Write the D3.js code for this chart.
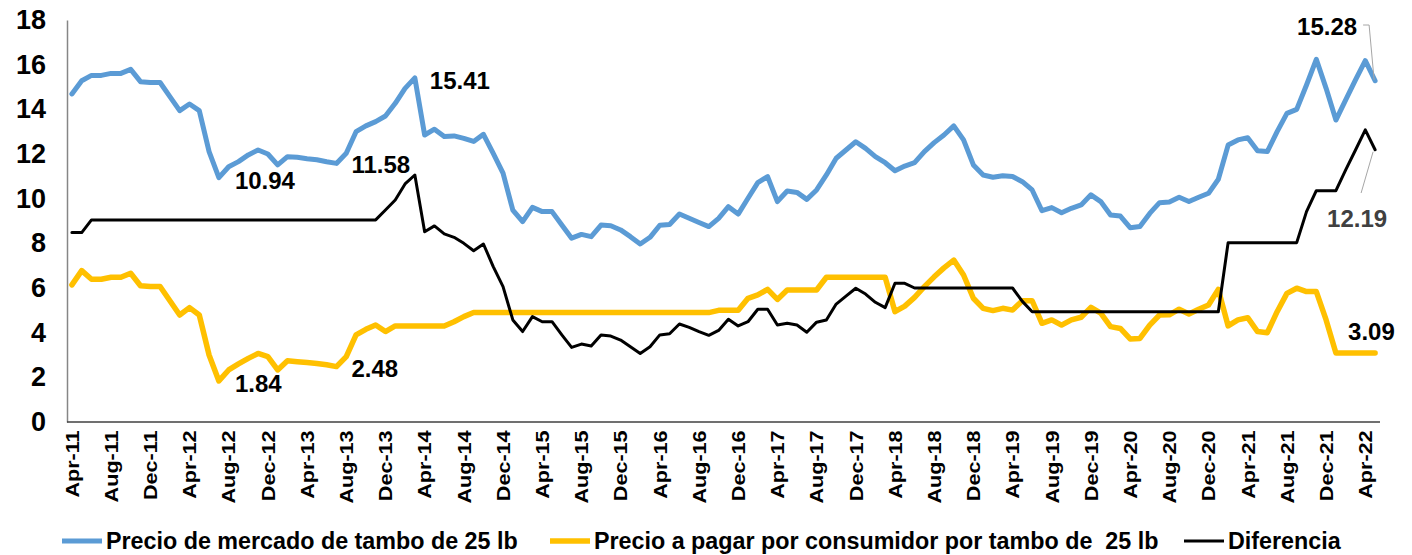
<!DOCTYPE html>
<html>
<head>
<meta charset="utf-8">
<script src="https://cdn.jsdelivr.net/npm/d3@7"></script>
<style>
  body { margin: 0; background: #fff; }
  svg text { font-family: "Liberation Sans", Arial, sans-serif; font-weight: bold; }
</style>
</head>
<body>
<script>
// months Apr-11 .. May-22
const months = d3.timeMonth.range(new Date(2011, 3, 1), new Date(2022, 5, 1));
const yTicks = [0, 2, 4, 6, 8, 10, 12, 14, 16, 18];

const marketPrice = [
  14.69, 15.28, 15.52, 15.52, 15.61, 15.61, 15.79, 15.24, 15.20, 15.20, 14.57, 13.94, 14.24, 13.94, 12.11, 10.94, 11.43, 11.66, 11.96, 12.18, 12.00, 11.51,
  11.88, 11.85, 11.79, 11.74, 11.65, 11.58, 12.03, 13.00, 13.26, 13.45, 13.70, 14.27, 14.94, 15.41, 12.85, 13.11, 12.78, 12.81, 12.70, 12.56, 12.88, 12.03, 11.14,
  9.49, 8.97, 9.61, 9.42, 9.42, 8.82, 8.23, 8.40, 8.30, 8.82, 8.79, 8.60, 8.30, 7.97, 8.27, 8.81, 8.84, 9.31, 9.12, 8.93, 8.75, 9.12, 9.64,
  9.31, 10.02, 10.72, 10.99, 9.87, 10.34, 10.28, 9.97, 10.39, 11.06, 11.81, 12.18, 12.55, 12.25, 11.88, 11.61, 11.25, 11.46, 11.61, 12.11, 12.51,
  12.85, 13.26, 12.63, 11.51, 11.06, 10.96, 11.03, 10.99, 10.76, 10.39, 9.46, 9.60, 9.37, 9.57, 9.72, 10.17, 9.87, 9.27, 9.22, 8.70, 8.75, 9.34, 9.82,
  9.85, 10.06, 9.87, 10.06, 10.24, 10.87, 12.40, 12.63, 12.73, 12.15, 12.11, 13.00, 13.82, 14.00, 15.09, 16.24, 14.94, 13.52, 14.42, 15.32, 16.18, 15.28
];
const consumerPrice = [
  6.14, 6.78, 6.39, 6.39, 6.48, 6.48, 6.66, 6.10, 6.07, 6.07, 5.43, 4.79, 5.12, 4.79, 3.00, 1.84, 2.33, 2.60, 2.85, 3.07, 2.93, 2.33,
  2.74, 2.70, 2.66, 2.62, 2.56, 2.48, 2.93, 3.90, 4.15, 4.34, 4.05, 4.30, 4.30, 4.30, 4.30, 4.30, 4.30, 4.49, 4.72, 4.90, 4.90, 4.90, 4.90,
  4.90, 4.90, 4.90, 4.90, 4.90, 4.90, 4.90, 4.90, 4.90, 4.90, 4.90, 4.90, 4.90, 4.90, 4.90, 4.90, 4.90, 4.90, 4.90, 4.90, 4.90, 5.00, 5.00,
  5.00, 5.54, 5.69, 5.94, 5.49, 5.91, 5.91, 5.91, 5.91, 6.48, 6.48, 6.48, 6.48, 6.48, 6.48, 6.48, 4.94, 5.19, 5.58, 6.06, 6.50,
  6.90, 7.25, 6.58, 5.54, 5.09, 4.99, 5.09, 5.01, 5.43, 5.43, 4.42, 4.57, 4.34, 4.57, 4.69, 5.13, 4.87, 4.27, 4.19, 3.72, 3.74, 4.34, 4.79,
  4.80, 5.05, 4.84, 5.05, 5.24, 5.94, 4.30, 4.57, 4.67, 4.05, 4.00, 4.94, 5.76, 5.99, 5.84, 5.84, 4.57, 3.09, 3.09, 3.09, 3.09, 3.09
];
const difference = [
  8.48, 8.48, 9.05, 9.05, 9.05, 9.05, 9.05, 9.05, 9.05, 9.05, 9.05, 9.05, 9.05, 9.05, 9.05, 9.05, 9.05, 9.05, 9.05, 9.05, 9.05, 9.05,
  9.05, 9.05, 9.05, 9.05, 9.05, 9.05, 9.05, 9.05, 9.05, 9.05, 9.49, 9.94, 10.66, 11.06, 8.52, 8.78, 8.42, 8.27, 8.00, 7.67, 7.97, 6.96, 6.06,
  4.57, 4.05, 4.72, 4.49, 4.49, 3.90, 3.34, 3.49, 3.40, 3.90, 3.85, 3.67, 3.37, 3.07, 3.37, 3.90, 3.95, 4.39, 4.24, 4.05, 3.88, 4.10, 4.60,
  4.30, 4.49, 5.05, 5.05, 4.34, 4.42, 4.34, 4.02, 4.47, 4.57, 5.28, 5.64, 5.99, 5.73, 5.36, 5.12, 6.21, 6.21, 6.00, 6.00, 6.00,
  6.00, 6.00, 6.00, 6.00, 6.00, 6.00, 6.00, 6.00, 5.40, 4.94, 4.94, 4.94, 4.94, 4.94, 4.94, 4.94, 4.94, 4.94, 4.94, 4.94, 4.94, 4.94, 4.94,
  4.94, 4.94, 4.94, 4.94, 4.94, 4.94, 8.03, 8.03, 8.03, 8.03, 8.03, 8.03, 8.03, 8.03, 9.42, 10.36, 10.36, 10.36, 11.29, 12.18, 13.08, 12.19
];
const seriesNames = [
  "Precio de mercado de tambo de 25 lb",
  "Precio a pagar por consumidor por tambo de  25 lb",
  "Diferencia"
];
// labelled points: series index, month index, text
const pointLabels = [
  { s: 0, i: 15, text: "10.94" },
  { s: 1, i: 15, text: "1.84" },
  { s: 0, i: 27, text: "11.58" },
  { s: 1, i: 27, text: "2.48" },
  { s: 0, i: 35, text: "15.41" },
  { s: 0, i: 133, text: "15.28" },
  { s: 2, i: 133, text: "12.19" },
  { s: 1, i: 133, text: "3.09" }
];

const W = 1412, H = 555;
const colors = ["#5B9BD5", "#FFC000", "#000000"];
const widths = [5, 5.5, 3];
const series = [marketPrice, consumerPrice, difference];

const svg = d3.select("body").append("svg")
  .attr("width", W).attr("height", H);

const x = d3.scalePoint()
  .domain(d3.range(months.length))
  .range([67, 1380])
  .padding(0.5);
const y = d3.scaleLinear().domain([0, 18]).range([422, 20]);
const fmt = d3.timeFormat("%b-%y");

// y axis
const yAxis = svg.append("g")
  .attr("transform", "translate(67,0)")
  .call(d3.axisLeft(y).tickValues(yTicks).tickSize(0).tickPadding(21));
yAxis.select(".domain").attr("stroke", "#868686").attr("stroke-width", 1.5);
yAxis.selectAll("text").attr("font-size", 27).attr("fill", "#000")
  .style("font-family", "'Liberation Sans', Arial, sans-serif");

// x axis
const xAxis = svg.append("g")
  .attr("transform", "translate(0,422)")
  .call(d3.axisBottom(x)
    .tickValues(d3.range(0, months.length, 4))
    .tickFormat(i => fmt(months[i]))
    .tickSize(0));
xAxis.select(".domain").attr("stroke", "#404040").attr("stroke-width", 1.5)
  .attr("d", "M67,0H1380");
xAxis.selectAll("text")
  .attr("font-size", 18)
  .attr("fill", "#000")
  .attr("text-anchor", "end")
  .attr("transform", "rotate(-90) scale(1.2,1)")
  .attr("x", -7).attr("y", 0).attr("dy", "0.35em")
  .style("font-family", "'Liberation Sans', Arial, sans-serif");

// lines
const line = d3.line().x((d, i) => x(i)).y(d => y(d));
series.forEach((s, k) => {
  svg.append("path")
    .datum(s)
    .attr("fill", "none")
    .attr("stroke", colors[k])
    .attr("stroke-width", widths[k])
    .attr("stroke-linejoin", "round")
    .attr("stroke-linecap", "round")
    .attr("d", line);
});

// leader lines for the last points
const last = months.length - 1;
svg.append("path")
  .attr("fill", "none").attr("stroke", "#A6A6A6").attr("stroke-width", 1)
  .attr("d", `M${x(last) - 12},25H${x(last) - 6}L${x(last) - 1},${y(marketPrice[last]) - 1}`);
svg.append("path")
  .attr("fill", "none").attr("stroke", "#A6A6A6").attr("stroke-width", 1)
  .attr("d", `M${x(last) - 14},193L${x(last) - 2},${y(difference[last]) + 2}`);

// data labels
const labelOffset = [
  { dx: 16, dy: 11, anchor: "start", color: "#000" },
  { dx: 16, dy: 11, anchor: "start", color: "#000" },
  { dx: 15, dy: 10, anchor: "start", color: "#000" },
  { dx: 15, dy: 10, anchor: "start", color: "#000" },
  { dx: 15, dy: 11, anchor: "start", color: "#000" },
  { dx: -18, dy: -46, anchor: "end", color: "#000" },
  { dx: -48, dy: 77, anchor: "start", color: "#404040" },
  { dx: -27, dy: -13, anchor: "start", color: "#000" }
];
svg.append("g").selectAll("text")
  .data(pointLabels)
  .enter().append("text")
  .attr("x", (d, k) => x(d.i) + labelOffset[k].dx)
  .attr("y", (d, k) => y(series[d.s][d.i]) + labelOffset[k].dy)
  .attr("text-anchor", (d, k) => labelOffset[k].anchor)
  .attr("fill", (d, k) => labelOffset[k].color)
  .attr("font-size", 24)
  .text(d => d.text);

// legend
const legendX = [62, 550, 1184];
const legend = svg.append("g").selectAll("g")
  .data(seriesNames)
  .enter().append("g")
  .attr("transform", (d, k) => `translate(${legendX[k]},541)`);
legend.append("line")
  .attr("x1", 0).attr("x2", 40)
  .attr("stroke", (d, k) => colors[k])
  .attr("stroke-width", (d, k) => widths[k]);
legend.append("text")
  .attr("x", 44).attr("dy", "0.35em")
  .attr("font-size", 23.3)
  .attr("fill", "#000")
  .style("white-space", "pre")
  .text(d => d);
</script>
</body>
</html>
